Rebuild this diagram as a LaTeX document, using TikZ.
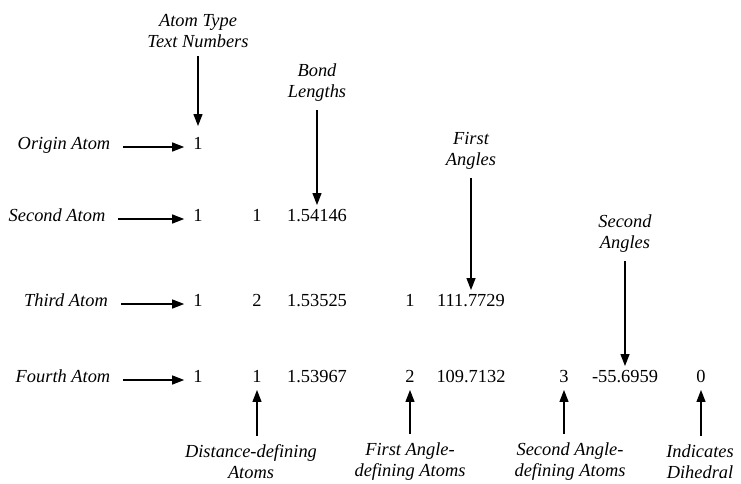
\documentclass[tikz,border=0pt]{standalone}
\usepackage{fontspec}
\setmainfont{Liberation Serif}
\usepackage{tikz}
\usetikzlibrary{arrows.meta, positioning}

\begin{document}
\begin{tikzpicture}[
    x=1pt, y=-1pt,
    lbl/.style={font=\fontsize{18.4}{21}\selectfont\itshape, align=center, inner sep=5pt},
    row/.style={font=\fontsize{18.4}{21}\selectfont\itshape, inner sep=5pt, text height=0.7em, text depth=0.25em},
    num/.style={font=\fontsize{18.4}{21}\selectfont, inner sep=5pt, text height=0.7em, text depth=0.25em},
    arr/.style={-{Triangle[length=12pt, width=9pt]}, line width=1.2pt, shorten <=3pt, shorten >=4pt},
  ]
  \useasboundingbox (0,0) rectangle (741,483);

  % rows
  \node[row] (orig) at (64,147)  {Origin Atom};
  \node[row] (sec)  at (57,219)  {Second Atom};
  \node[row] (thd)  at (66,304)  {Third Atom};
  \node[row] (fth)  at (63,380)  {Fourth Atom};

  \node[num] (o1) at (198,147) {1};

  \node[num] (s1) at (198,219) {1};
  \node[num] (s2) at (257,219) {1};
  \node[num] (s3) at (317,219) {1.54146};

  \node[num] (t1) at (198,304) {1};
  \node[num] (t2) at (257,304) {2};
  \node[num] (t3) at (317,304) {1.53525};
  \node[num] (t4) at (410,304) {1};
  \node[num] (t5) at (471,304) {111.7729};

  \node[num] (f1) at (198,380) {1};
  \node[num] (f2) at (257,380) {1};
  \node[num] (f3) at (317,380) {1.53967};
  \node[num] (f4) at (410,380) {2};
  \node[num] (f5) at (471,380) {109.7132};
  \node[num] (f6) at (564,380) {3};
  \node[num] (f7) at (625,380) {-55.6959};
  \node[num] (f8) at (701,380) {0};

  \draw[arr, shorten <=8pt] (orig) -- (o1);
  \draw[arr, shorten <=8pt] (sec)  -- (s1);
  \draw[arr, shorten <=8pt] (thd)  -- (t1);
  \draw[arr, shorten <=8pt] (fth)  -- (f1);

  % column heads
  \node[lbl] (atype) at (198,31.5) {Atom Type\\Text Numbers};
  \node[lbl] (bond)  at (317,82.5) {Bond\\Lengths};
  \node[lbl] (fang)  at (471,151)  {First\\Angles};
  \node[lbl] (sang)  at (625,234)  {Second\\Angles};

  \draw[arr, shorten >=11pt] (o1 |- atype.south) -- (o1);
  \draw[arr] (s3 |- bond.south) -- (s3);
  \draw[arr] (t5 |- fang.south) -- (t5);
  \draw[arr] (f7 |- sang.south) -- (f7);

  % footnotes under the last row
  \node[lbl] (dist) at (251,462) {Distance-defining\\Atoms};
  \node[lbl] (fdef) at (410,462) {First Angle-\\defining Atoms};
  \node[lbl] (sdef) at (570,462) {Second Angle-\\defining Atoms};
  \node[lbl] (dih)  at (700,462) {Indicates\\Dihedral};

  \draw[arr, shorten <=4pt, shorten >=0pt] (f2 |- dist.north) -- (f2);
  \draw[arr, shorten <=4pt, shorten >=0pt] (f4 |- fdef.north) -- (f4);
  \draw[arr, shorten <=4pt, shorten >=0pt] (f6 |- sdef.north) -- (f6);
  \draw[arr, shorten <=4pt, shorten >=0pt] (f8 |- dih.north)  -- (f8);
\end{tikzpicture}
\end{document}
